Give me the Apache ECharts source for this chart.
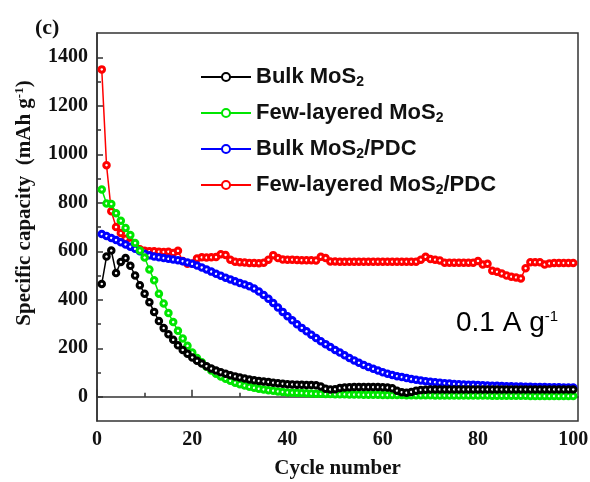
<!DOCTYPE html>
<html>
<head>
<meta charset="utf-8">
<script src="https://cdn.jsdelivr.net/npm/echarts@6/dist/echarts.min.js"></script>
<style>
  html, body { margin: 0; padding: 0; background: #fff; }
  #chart { width: 590px; height: 482px; }
</style>
</head>
<body>
<div id="chart"></div>
<script>
// cycle numbers 1..100
const cycles = Array.from({ length: 100 }, (_, i) => i + 1)

const bulkMoS2 = [
  465, 578, 603, 510, 556, 572, 540, 500, 460, 425,
  390, 350, 312, 283, 258, 235, 212, 193, 177, 162,
  148, 137, 126, 116, 108, 101, 95, 89, 84, 79,
  75, 71, 68, 65, 63, 61, 58, 56, 54, 52,
  51, 50, 49, 48, 48, 47, 42, 33, 30, 31,
  36, 38, 39, 40, 40, 40, 40, 40, 40, 39,
  38, 35, 25, 19, 17, 20, 25, 28, 29, 30,
  30, 30, 30, 30, 30, 30, 30, 30, 30, 30,
  30, 30, 30, 30, 30, 30, 30, 30, 30, 30,
  30, 30, 30, 30, 30, 30, 30, 30, 30, 30
]

const fewMoS2 = [
  855, 797, 795, 757, 726, 696, 667, 634, 603, 574,
  525, 480, 425, 385, 345, 308, 272, 240, 210, 182,
  160, 142, 124, 108, 95, 84, 74, 66, 58, 52,
  46, 41, 37, 33, 30, 27, 25, 22, 20, 18,
  17, 16, 15, 14, 13, 12, 12, 11, 11, 10,
  10, 10, 9, 9, 9, 8, 8, 8, 8, 7,
  7, 7, 7, 7, 6, 6, 6, 6, 6, 6,
  5, 5, 5, 5, 5, 5, 5, 5, 5, 5,
  5, 5, 4, 4, 4, 4, 4, 4, 4, 4,
  3, 3, 3, 3, 3, 3, 3, 3, 3, 3
]

const bulkPDC = [
  671, 663, 655, 646, 637, 628, 619, 610, 600, 590,
  583, 578, 575, 572, 569, 566, 563, 559, 554, 548,
  541, 533, 525, 516, 507, 499, 491, 484, 476, 469,
  463, 456, 446, 434, 420, 404, 387, 368, 350, 332,
  315, 299, 284, 270, 256, 242, 229, 217, 205, 193,
  182, 171, 160, 150, 140, 131, 123, 115, 108, 101,
  95, 90, 85, 81, 77, 73, 70, 67, 64, 62,
  60, 58, 56, 55, 53, 52, 51, 50, 49, 48,
  47, 46, 45, 45, 44, 43, 43, 42, 42, 41,
  41, 40, 40, 40, 39, 39, 39, 38, 38, 38
]

const fewPDC = [
  1350, 955, 765, 700, 675, 652, 635, 620, 608, 602,
  600, 600, 598, 597, 598, 593, 602, 560, 548, 550,
  570, 575, 574, 575, 576, 588, 585, 565, 557, 555,
  554, 552, 552, 551, 553, 565, 584, 572, 566, 565,
  565, 564, 563, 563, 563, 562, 577, 572, 558, 558,
  557, 557, 557, 557, 557, 557, 557, 557, 557, 557,
  557, 557, 557, 557, 557, 557, 557, 565, 577, 568,
  565, 562, 553, 553, 553, 553, 553, 553, 553, 560,
  545, 548, 520, 515, 508, 500, 495, 492, 488, 530,
  555, 555, 555, 545, 550, 552, 552, 552, 552, 552
]

const xMajor = [0, 20, 40, 60, 80, 100]
const xMinor = [10, 30, 50, 70, 90]
const yMajor = [0, 200, 400, 600, 800, 1000, 1200, 1400]
const yMinor = [100, 300, 500, 700, 900, 1100, 1300]

const seriesNames = ['Bulk MoS2', 'Few-layered MoS2', 'Bulk MoS2/PDC', 'Few-layered MoS2/PDC']
const seriesColors = ['#000000', '#00e600', '#0000ff', '#ff0000']
const seriesData = [bulkMoS2, fewMoS2, bulkPDC, fewPDC]
const seriesZ = [5, 4, 3, 2]

const serif = "'Liberation Serif', 'Times New Roman', serif"
const sans = "'Liberation Sans', Arial, sans-serif"

// MoS2 -> MoS{s|2}
const richName = (name) => {
  const parts = name.split('MoS2')
  return '{a|' + parts[0] + 'MoS}{s|2}' + (parts[1] ? '{a|' + parts[1] + '}' : '')
}

const chart = echarts.init(document.getElementById('chart'))

const axisLine = { show: true, lineStyle: { color: '#333', width: 1.5 } }

const option = {
  animation: false,
  title: {
    text: '(c)',
    left: 30,
    top: 12,
    textStyle: { fontFamily: serif, fontWeight: 'bold', fontSize: 22, color: '#111' }
  },
  grid: {
    left: 97,
    right: 12,
    top: 33,
    bottom: 61,
    containLabel: false,
    outerBoundsMode: 'none',
    show: true,
    borderColor: '#333',
    borderWidth: 1.5
  },
  legend: {
    orient: 'vertical',
    left: 200,
    top: 66,
    padding: 0,
    itemWidth: 50,
    itemHeight: 10,
    itemGap: 13,
    data: seriesNames,
    formatter: richName,
    textStyle: {
      rich: {
        a: { fontFamily: sans, fontWeight: 'bold', fontSize: 22, color: '#111', lineHeight: 24 },
        s: { fontFamily: sans, fontWeight: 'bold', fontSize: 14, color: '#111', padding: [10, 0, 0, 0] }
      }
    }
  },
  xAxis: [
    {
      type: 'value',
      min: 0,
      max: 101,
      name: 'Cycle number',
      nameLocation: 'middle',
      nameGap: 37,
      nameTextStyle: { fontFamily: serif, fontWeight: 'bold', fontSize: 21, color: '#111' },
      axisLine,
      axisTick: { show: true, inside: true, length: 7, customValues: xMajor, lineStyle: { color: '#333', width: 1.5 } },
      axisLabel: { customValues: xMajor, fontFamily: serif, fontWeight: 'bold', fontSize: 20, color: '#111', margin: 9 },
      splitLine: { show: false }
    },
    {
      type: 'value',
      min: 0,
      max: 101,
      position: 'bottom',
      axisLine: { show: false },
      axisTick: { show: true, inside: true, length: 4, customValues: xMinor, lineStyle: { color: '#333', width: 1.5 } },
      axisLabel: { show: false },
      splitLine: { show: false }
    }
  ],
  yAxis: [
    {
      type: 'value',
      min: -100,
      max: 1500,
      name: '{t|Specific capacity  (mAh g}{p|-1}{t|)}',
      nameLocation: 'middle',
      nameGap: 60,
      nameTextStyle: {
        padding: [0, 0, 0, 48],
        rich: {
          t: { fontFamily: serif, fontWeight: 'bold', fontSize: 21, color: '#111', lineHeight: 24 },
          p: { fontFamily: serif, fontWeight: 'bold', fontSize: 13, color: '#111', padding: [0, 0, 10, 0] }
        }
      },
      axisLine,
      axisTick: { show: true, inside: true, length: 6, customValues: yMajor, lineStyle: { color: '#333', width: 1.5 } },
      axisLabel: {
        customValues: yMajor,
        formatter: (v) => String(v),
        fontFamily: serif, fontWeight: 'bold', fontSize: 20, color: '#111', margin: 9
      },
      splitLine: { show: false }
    },
    {
      type: 'value',
      min: -100,
      max: 1500,
      position: 'left',
      axisLine: { show: false },
      axisTick: { show: true, inside: true, length: 4, customValues: yMinor, lineStyle: { color: '#333', width: 1.5 } },
      axisLabel: { show: false },
      splitLine: { show: false }
    }
  ],
  graphic: [
    {
      type: 'text',
      left: 456,
      top: 309,
      style: {
        text: '{n|0.1 A g}{p|-1}',
        rich: {
          n: { fontFamily: sans, fontSize: 28, color: '#111', lineHeight: 32 },
          p: { fontFamily: sans, fontSize: 15, color: '#111', padding: [0, 0, 14, 0] }
        }
      }
    }
  ],
  series: seriesNames.map((name, i) => ({
    name,
    type: 'line',
    z: seriesZ[i],
    data: cycles.map((c, k) => [c, seriesData[i][k]]),
    symbol: 'circle',
    symbolSize: 5.5,
    showSymbol: true,
    lineStyle: { color: seriesColors[i], width: 1.5 },
    itemStyle: { color: '#ffffff', borderColor: seriesColors[i], borderWidth: 3 }
  }))
}

chart.setOption(option)
</script>
</body>
</html>
